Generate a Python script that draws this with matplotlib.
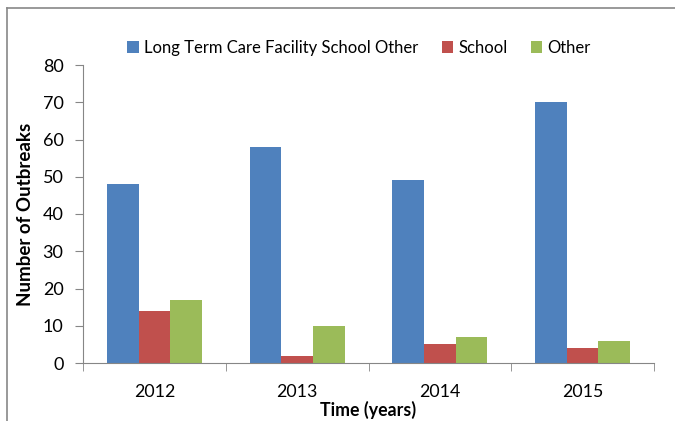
import matplotlib
matplotlib.use("Agg")
import matplotlib.pyplot as plt
import numpy as np
from matplotlib.lines import Line2D

years = ["2012", "2013", "2014", "2015"]
series_names = ["Long Term Care Facility School Other", "School", "Other"]
ltcf = [48, 58, 49, 70]
school = [14, 2, 5, 4]
other = [17, 10, 7, 6]
colors = ["#4F81BD", "#C0504D", "#9BBB59"]

plt.rcParams['font.family'] = ['Lato', 'DejaVu Sans']

fig = plt.figure(figsize=(6.75, 4.21), dpi=100)
ax = fig.add_axes([83/675, 1-363/421, (654-83)/675, (363-65)/421])

x = np.arange(len(years))
w = 1/4.5
for i, (vals, c, name) in enumerate(zip([ltcf, school, other], colors, series_names)):
    ax.bar(x + (i-1)*w, vals, width=w, color=c, label=name, zorder=2)

ax.set_xlim(-0.5, len(years)-0.5)
ax.set_ylim(0, 80)
ax.set_yticks(range(0, 81, 10))
ax.set_xticks(x)
ax.set_xticklabels(years, fontsize=12.8)
ax.tick_params(axis='y', labelsize=13, length=6, color='#868686', pad=8)
ax.set_xticks(np.arange(-0.5, len(years), 1), minor=True)
ax.tick_params(axis='x', which='major', length=0, pad=15)
ax.tick_params(axis='x', which='minor', length=6, color='#868686')
for s in ['top', 'right']:
    ax.spines[s].set_visible(False)
for s in ['left', 'bottom']:
    ax.spines[s].set_color('#868686')

ax.set_ylabel("Number of Outbreaks", fontsize=13.5, fontweight='bold', labelpad=6)
ax.set_xlabel("Time (years)", fontsize=12.8, fontweight='bold', labelpad=1)

leg = fig.legend(loc='center', bbox_to_anchor=(359/675, 1-48/421), ncol=3, frameon=False,
                 fontsize=12, handlelength=0.7, handleheight=0.7, handletextpad=0.3,
                 columnspacing=1.4)

# outer frame lines
fig.add_artist(Line2D([7/675, 7/675], [0, 1-8/421], transform=fig.transFigure, color='#888888', lw=1.2))
fig.add_artist(Line2D([7/675, 1], [1-8/421, 1-8/421], transform=fig.transFigure, color='#888888', lw=1.2))

fig.savefig("out.png", dpi=100)
